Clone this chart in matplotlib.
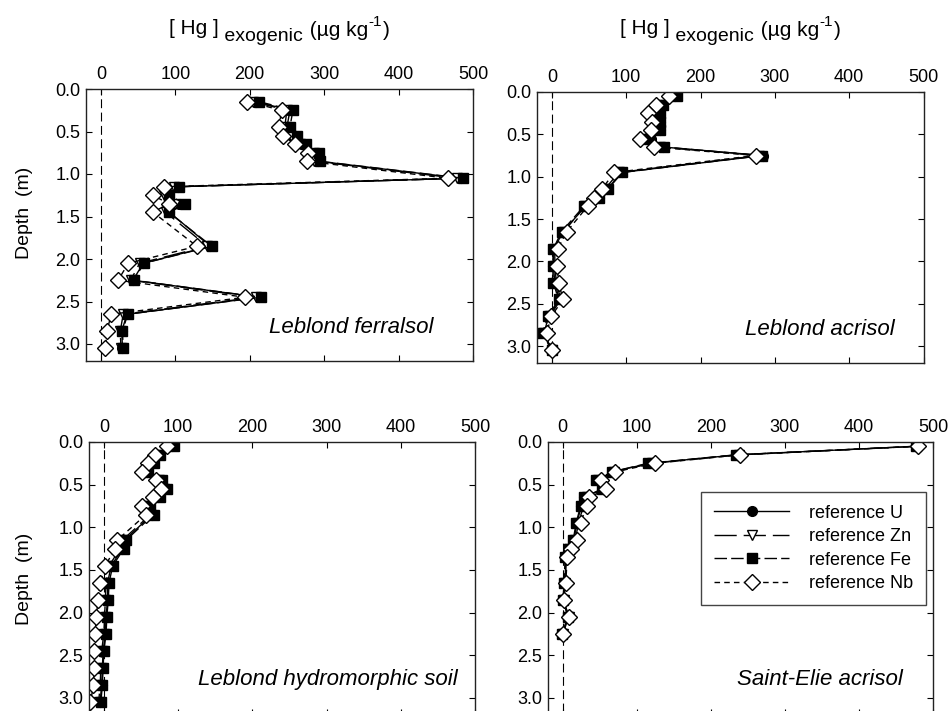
import matplotlib.pyplot as plt

plt.rcParams['font.family'] = ['Liberation Sans', 'DejaVu Sans']

# Leblond ferralsol
depth_lf = [0.15, 0.25, 0.45, 0.55, 0.65, 0.75, 0.85, 1.05, 1.15, 1.25,
            1.35, 1.45, 1.85, 2.05, 2.25, 2.45, 2.65, 2.85, 3.05]
u_lf = [209, 254, 250, 258, 272, 290, 292, 484, 103, 90,
        105, 92, 147, 57, 43, 213, 35, 28, 29]
zn_lf = [205, 250, 247, 255, 268, 286, 287, 478, 98, 85,
         100, 87, 143, 52, 40, 208, 30, 26, 27]
fe_lf = [213, 258, 254, 263, 276, 293, 294, 487, 105, 91,
         113, 91, 149, 58, 44, 215, 36, 29, 30]
nb_lf = [197, 243, 239, 245, 261, 278, 277, 466, 85, 70,
         91, 70, 129, 37, 23, 194, 14, 8, 6]

# Leblond acrisol
depth_la = [0.05, 0.15, 0.25, 0.35, 0.45, 0.55, 0.65, 0.75, 0.95, 1.15,
            1.25, 1.35, 1.65, 1.85, 2.05, 2.25, 2.45, 2.65, 2.85, 3.05]
u_la = [166, 147, 144, 145, 145, 133, 150, 284, 94, 74,
        63, 45, 15, 3, 2, 4, 10, -4, -11, 0]
zn_la = [162, 145, 140, 142, 140, 126, 146, 279, 90, 71,
         60, 44, 16, 4, 4, 6, 12, -3, -10, 0]
fe_la = [168, 150, 145, 146, 146, 131, 151, 283, 95, 75,
         64, 43, 13, 2, 1, 2, 9, -5, -13, 0]
nb_la = [158, 140, 130, 135, 134, 118, 138, 274, 84, 67,
         57, 48, 20, 8, 7, 9, 15, -1, -7, 0]

# Leblond hydromorphic soil
depth_lh = [0.05, 0.15, 0.25, 0.35, 0.45, 0.55, 0.65, 0.75, 0.85, 1.15,
            1.25, 1.45, 1.65, 1.85, 2.05, 2.25, 2.45, 2.65, 2.85, 3.05]
u_lh = [92, 73, 66, 58, 76, 83, 73, 61, 65, 28,
        25, 10, 5, 5, 3, 2, -1, -2, -3, -5]
zn_lh = [90, 72, 64, 56, 74, 81, 71, 58, 63, 25,
         22, 7, 3, 2, 1, 0, -3, -4, -5, -7]
fe_lh = [94, 75, 67, 60, 78, 85, 75, 62, 67, 30,
         27, 12, 7, 6, 4, 3, 0, -1, -2, -4]
nb_lh = [85, 69, 60, 51, 70, 77, 66, 52, 57, 18,
         15, 2, -5, -8, -10, -12, -13, -13, -14, -18]

# Saint-Elie acrisol
depth_se = [0.05, 0.15, 0.25, 0.35, 0.45, 0.55, 0.65, 0.75, 0.95, 1.15,
            1.25, 1.35, 1.65, 1.85, 2.05, 2.25]
u_se = [478, 236, 117, 67, 46, 54, 29, 25, 19, 15, 9, 4, 3, 1, 7, -1]
zn_se = [479, 238, 120, 69, 48, 56, 32, 28, 21, 17, 9, 5, 3, 1, 8, 0]
fe_se = [477, 234, 115, 66, 45, 53, 28, 24, 18, 14, 8, 3, 2, 0, 7, -1]
nb_se = [480, 240, 124, 71, 51, 59, 36, 32, 24, 19, 11, 6, 4, 1, 8, 0]

names = ['Leblond ferralsol', 'Leblond acrisol',
         'Leblond hydromorphic soil', 'Saint-Elie acrisol']
profiles = [
    (depth_lf, [u_lf, zn_lf, fe_lf, nb_lf]),
    (depth_la, [u_la, zn_la, fe_la, nb_la]),
    (depth_lh, [u_lh, zn_lh, fe_lh, nb_lh]),
    (depth_se, [u_se, zn_se, fe_se, nb_se]),
]
series_names = ['reference U', 'reference Zn', 'reference Fe', 'reference Nb']

# marker, size, face colour, dash pattern (None = solid)
styles = [
    ('o', 7.0, 'black', None),
    ('v', 6.5, 'white', (16, 5)),
    ('s', 7.0, 'black', (9, 3)),
    ('D', 8.5, 'white', (4, 3)),
]

W, H = 951, 711
# axes boxes in pixels: left, right, top, bottom
boxes = [(86, 473, 89, 361), (537, 923.5, 92, 363),
         (89, 475, 442, 715), (548, 933, 442, 715)]
# panel name positions (axes fraction, right aligned)
name_pos = [(0.897, 0.103), (0.926, 0.103), (0.956, 0.11), (0.922, 0.11)]
ylabel_pos = [(-0.137, 0.545), None, (-0.145, 0.5), None]

fig = plt.figure(figsize=(W / 100, H / 100), dpi=100)


def hg_label(ax, y_px):
    # "[ Hg ] exogenic (µg kg-1)" with a near full-size subscript
    t1 = fig.text(0.5, 1 - y_px / H, '[ Hg ]', fontsize=15, va='baseline')
    t2 = ax.annotate(' exogenic', xy=(1, 0), xycoords=t1, xytext=(0, -5),
                     textcoords='offset points', fontsize=14, va='bottom',
                     annotation_clip=False)
    t3 = ax.annotate(' (µg kg', xy=(1, 0), xycoords=t2, xytext=(1, 3.5),
                     textcoords='offset points', fontsize=15, va='bottom',
                     annotation_clip=False)
    t4 = ax.annotate('-1', xy=(1, 0), xycoords=t3, xytext=(0, 8),
                     textcoords='offset points', fontsize=11, va='bottom',
                     annotation_clip=False)
    t5 = ax.annotate(')', xy=(1, 0), xycoords=(t4, t3), xytext=(0.5, 0),
                     textcoords='offset points', fontsize=15, va='bottom',
                     annotation_clip=False)
    return [t1, t2, t3, t4, t5]


labels = []
for i, (box, (depth, vals)) in enumerate(zip(boxes, profiles)):
    l, r, t, b = box
    ax = fig.add_axes([l / W, 1 - b / H, (r - l) / W, (b - t) / H])
    ax.axvline(0, color='black', lw=0.8, dashes=(8, 4))
    for v, (mk, ms, fc, dash), lab in zip(vals, styles, series_names):
        line, = ax.plot(v, depth, color='black', lw=1.0, marker=mk,
                        markersize=ms, markerfacecolor=fc,
                        markeredgecolor='black', markeredgewidth=1.0,
                        label=lab)
        if dash is not None:
            line.set_dashes(dash)
    ax.set_xlim(-20, 500)
    ax.set_ylim(3.2, 0)
    ax.set_xticks([0, 100, 200, 300, 400, 500])
    ax.set_yticks([0.0, 0.5, 1.0, 1.5, 2.0, 2.5, 3.0])
    ax.set_yticklabels(['%.1f' % y for y in ax.get_yticks()])
    ax.tick_params(direction='in', top=True, right=True, bottom=True,
                   labeltop=True, labelbottom=False, length=4,
                   labelsize=13, pad=4)
    for s in ax.spines.values():
        s.set_linewidth(1.0)
        s.set_color('#222222')
    ax.text(name_pos[i][0], name_pos[i][1], names[i], transform=ax.transAxes,
            ha='right', va='baseline', fontsize=16, style='italic')
    if ylabel_pos[i] is not None:
        ax.set_ylabel('Depth  (m)', fontsize=14)
        ax.yaxis.set_label_coords(*ylabel_pos[i])
    if i < 2:
        labels.append((ax, (l + r) / 2, hg_label(ax, 34)))
    if i == 3:
        leg = ax.legend(loc='upper right', bbox_to_anchor=(0.982, 0.817),
                        borderaxespad=0, fontsize=13, handlelength=4.2,
                        handletextpad=1.1, labelspacing=0.36,
                        fancybox=False, framealpha=1, edgecolor='#444444',
                        borderpad=0.7)
        leg.get_frame().set_linewidth(1.0)

# centre each composite label over its panel
fig.canvas.draw()
renderer = fig.canvas.get_renderer()
for ax, cx, parts in labels:
    x0 = min(p.get_window_extent(renderer).x0 for p in parts)
    x1 = max(p.get_window_extent(renderer).x1 for p in parts)
    first = parts[0]
    px, py = first.get_position()
    first.set_position((px + (cx - (x0 + x1) / 2) / W, py))

fig.savefig('out.png', dpi=100)
